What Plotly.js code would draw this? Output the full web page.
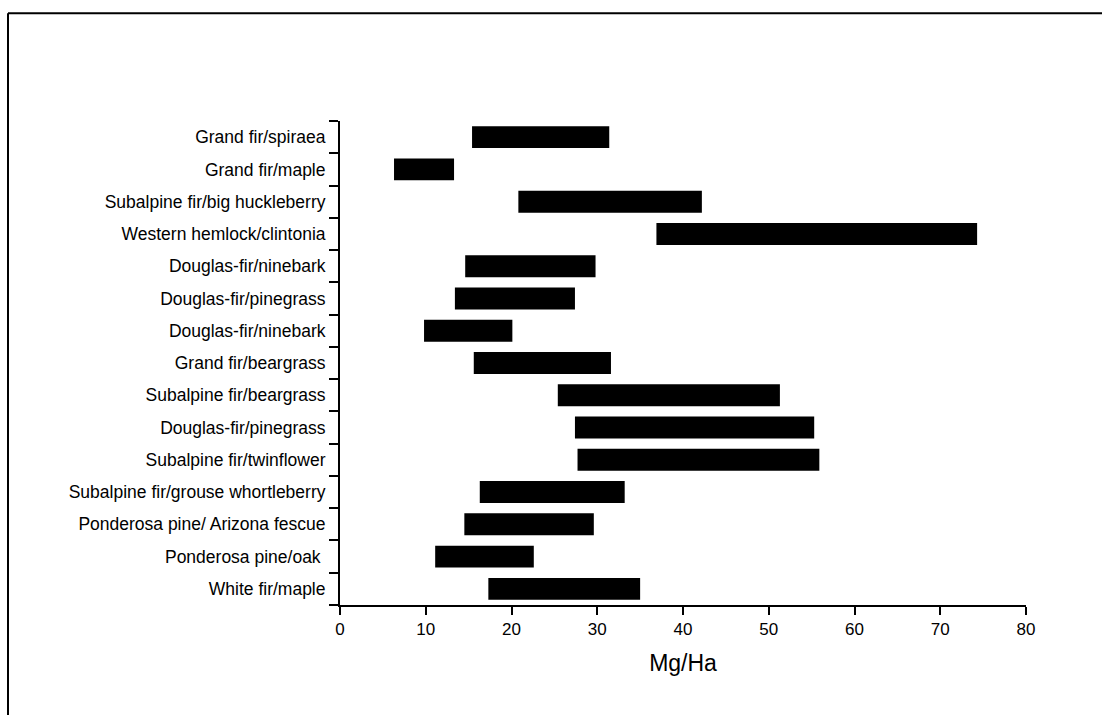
<!DOCTYPE html>
<html>
<head>
<meta charset="utf-8">
<script src="https://cdn.plot.ly/plotly-3.0.1.min.js"></script>
<style>html,body{margin:0;padding:0;background:#fff;}#chart{width:1102px;height:715px;}</style>
</head>
<body>
<div id="chart"></div>
<script>
var categories = [
  "Grand fir/spiraea",
  "Grand fir/maple",
  "Subalpine fir/big huckleberry",
  "Western hemlock/clintonia",
  "Douglas-fir/ninebark",
  "Douglas-fir/pinegrass",
  "Douglas-fir/ninebark",
  "Grand fir/beargrass",
  "Subalpine fir/beargrass",
  "Douglas-fir/pinegrass",
  "Subalpine fir/twinflower",
  "Subalpine fir/grouse whortleberry",
  "Ponderosa pine/ Arizona fescue",
  "Ponderosa pine/oak ",
  "White fir/maple"
];
var lowValues  = [15.4, 6.3, 20.8, 36.9, 14.6, 13.4, 9.8, 15.6, 25.4, 27.4, 27.7, 16.3, 14.5, 11.1, 17.3];
var highValues = [31.4, 13.3, 42.2, 74.3, 29.8, 27.4, 20.1, 31.6, 51.3, 55.3, 55.9, 33.2, 29.6, 22.6, 35.0];
var xTickVals = [0, 10, 20, 30, 40, 50, 60, 70, 80];

var positions = categories.map(function(_, i){ return i; });
var spans = highValues.map(function(h, i){ return h - lowValues[i]; });

var trace = {
  type: 'bar',
  orientation: 'h',
  y: positions,
  x: spans,
  base: lowValues,
  width: 0.68,
  marker: {color: '#000000', line: {width: 0}},
  hoverinfo: 'skip'
};

var W = 686, H = 484.3;
function px(x){ return (x - 340) / W; }
function py(y){ return (605 - y) / H; }

var layout = {
  width: 1102, height: 715,
  margin: {l: 340, r: 76, t: 120.7, b: 110, pad: 0},
  paper_bgcolor: '#ffffff', plot_bgcolor: '#ffffff',
  showlegend: false,
  font: {family: 'Liberation Sans, Arial, sans-serif', color: '#000'},
  xaxis: {
    range: [0, 80],
    tickmode: 'array', tickvals: xTickVals,
    ticks: 'outside', ticklen: 8, tickwidth: 2, tickcolor: '#000',
    showline: true, linewidth: 2, linecolor: '#000',
    showgrid: false, zeroline: false,
    tickfont: {size: 17, color: '#000'},
    title: {text: 'Mg/Ha', font: {size: 23, color: '#000'}, standoff: 16},
    fixedrange: true
  },
  yaxis: {
    range: [14.5, -0.5],
    tickmode: 'array', tickvals: positions, ticktext: categories,
    ticks: 'outside', ticklen: 9, tickcolor: 'rgba(0,0,0,0)',
    minor: {tickmode: 'linear', tick0: 0.5, dtick: 1, ticks: 'outside', ticklen: 9, tickwidth: 2, tickcolor: '#000', showgrid: false},
    showline: true, linewidth: 2, linecolor: '#000',
    showgrid: false, zeroline: false,
    tickfont: {size: 17.5, color: '#000'},
    fixedrange: true
  },
  shapes: [
    {type: 'line', xref: 'paper', yref: 'paper', x0: px(8), x1: px(1110), y0: py(13), y1: py(13), line: {color: '#000', width: 2}},
    {type: 'line', xref: 'paper', yref: 'paper', x0: px(8), x1: px(8), y0: py(13), y1: py(720), line: {color: '#000', width: 2}}
  ]
};

Plotly.newPlot('chart', [trace], layout, {displayModeBar: false, staticPlot: true});
</script>
</body>
</html>
